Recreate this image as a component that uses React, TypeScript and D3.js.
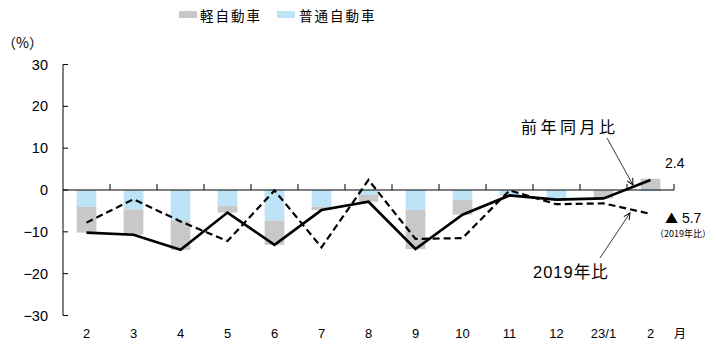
import React from "react";
import * as d3 from "d3";

// Month labels along the x axis
const months = ["2", "3", "4", "5", "6", "7", "8", "9", "10", "11", "12", "23/1", "2"];
// Contribution of standard cars (普通自動車), % points
const futsu = [-4.0, -4.7, -7.3, -3.8, -7.3, -4.0, -1.2, -4.8, -2.4, -1.2, -2.2, -0.2, -0.3];
// Contribution of kei cars (軽自動車), % points
const kei = [-6.2, -6.0, -7.0, -1.6, -5.8, -0.8, -1.6, -9.3, -3.5, -0.1, -0.1, -1.8, 2.7];
// Year-on-year change (前年同月比), %
const yoy = [-10.2, -10.7, -14.3, -5.4, -13.1, -4.8, -2.8, -14.1, -5.9, -1.3, -2.3, -2.0, 2.4];
// Change versus the same month of 2019 (2019年比), %
const vs2019 = [-7.8, -2.2, -7.5, -12.2, -0.1, -13.7, 2.4, -11.7, -11.5, -0.1, -3.4, -3.2, -5.7];
// Y axis ticks
const yTicks = [30, 20, 10, 0, -10, -20, -30];

const W = 716;
const H = 344;
const LATIN = "'Liberation Sans', Arial, sans-serif";
const CJK = "'Noto Sans CJK JP', sans-serif";
const GRAY = "#c8c8c8";
const BLUE = "#bde3f7";

export default function App() {
  const x = d3.scaleBand<number>().domain(d3.range(months.length)).range([63, 674]).padding(0);
  const y = d3.scaleLinear().domain([-30, 30]).range([315.5, 64.5]);
  const barW = x.bandwidth() * 0.42;
  const cx = (i: number) => (x(i) as number) + x.bandwidth() / 2;

  // Standard cars sit next to the zero line; kei cars extend beyond them
  // when the signs agree, otherwise they start from zero.
  const segments = months.flatMap((_, i) => {
    const b = futsu[i];
    const k = kei[i];
    const kStart = Math.sign(k) === Math.sign(b) ? b : 0;
    return [
      { i, from: 0, to: b, color: BLUE },
      { i, from: kStart, to: kStart + k, color: GRAY },
    ];
  });

  const line = d3
    .line<number>()
    .x((_, i) => cx(i))
    .y((v) => y(v));

  const last = months.length - 1;
  const fmt = d3.format(".1f");

  return (
    <svg
      width={W}
      height={H}
      style={{ position: "absolute", left: 0, top: 0, background: "#fff" }}
    >
      <defs>
        <marker
          id="arrow"
          viewBox="0 0 10 10"
          refX="9"
          refY="5"
          markerWidth="8"
          markerHeight="8"
          orient="auto"
          markerUnits="userSpaceOnUse"
        >
          <path d="M1,1 L9,5 L1,9" fill="none" stroke="#000" strokeWidth="1.2" />
        </marker>
      </defs>

      {/* legend */}
      <rect x={179} y={11} width={18} height={7} fill={GRAY} />
      <text x={200} y={20.5} fontFamily={CJK} fontSize={13.5} letterSpacing={2} fill="#000">
        軽自動車
      </text>
      <rect x={277} y={11} width={18} height={7} fill={BLUE} />
      <text x={299} y={20.5} fontFamily={CJK} fontSize={13.5} letterSpacing={2} fill="#000">
        普通自動車
      </text>

      {/* unit */}
      <text x={2} y={48} fontFamily={CJK} fontSize={14} fill="#000">
        （%）
      </text>

      {/* bars */}
      {segments.map((s, j) => (
        <rect
          key={j}
          x={cx(s.i) - barW / 2}
          y={y(Math.max(s.from, s.to))}
          width={barW}
          height={Math.abs(y(s.from) - y(s.to))}
          fill={s.color}
        />
      ))}

      {/* y axis */}
      <line x1={63} x2={63} y1={y(30)} y2={y(-30)} stroke="#000" strokeWidth={1} />
      {yTicks.map((t) => (
        <g key={t}>
          <line x1={63} x2={68} y1={y(t)} y2={y(t)} stroke="#000" strokeWidth={1} />
          <text
            x={48}
            y={y(t) + 5}
            textAnchor="end"
            fontFamily={LATIN}
            fontSize={14.5}
            fill="#000"
          >
            {t < 0 ? `\u2212${Math.abs(t)}` : t}
          </text>
        </g>
      ))}

      {/* zero line with category ticks */}
      <line x1={63} x2={674} y1={y(0)} y2={y(0)} stroke="#000" strokeWidth={1} />
      {months.map((_, i) => (
        <line
          key={i}
          x1={(x(i) as number) + x.bandwidth()}
          x2={(x(i) as number) + x.bandwidth()}
          y1={y(0)}
          y2={y(0) - 6}
          stroke="#000"
          strokeWidth={1}
        />
      ))}

      {/* lines */}
      <path
        d={line(vs2019) ?? ""}
        fill="none"
        stroke="#000"
        strokeWidth={2.2}
        strokeDasharray="7,4"
      />
      <path d={line(yoy) ?? ""} fill="none" stroke="#000" strokeWidth={2.6} />

      {/* x labels */}
      {months.map((m, i) => (
        <text
          key={i}
          x={cx(i)}
          y={338}
          textAnchor="middle"
          fontFamily={LATIN}
          fontSize={13}
          fill="#000"
        >
          {m}
        </text>
      ))}
      <text x={674} y={338} fontFamily={CJK} fontSize={12} fill="#000">
        月
      </text>

      {/* annotations */}
      <text x={521} y={133} fontFamily={CJK} fontSize={16} letterSpacing={3.5} fill="#000">
        前年同月比
      </text>
      <line x1={607} y1={138} x2={633} y2={185} stroke="#000" strokeWidth={0.8} markerEnd="url(#arrow)" />
      <text x={665} y={168} fontFamily={LATIN} fontSize={14} fill="#000">
        {fmt(yoy[last])}
      </text>

      <text x={533} y={278} fontFamily={LATIN} fontSize={16.5} letterSpacing={1} fill="#000">
        2019
        <tspan fontFamily={CJK}>年比</tspan>
      </text>
      <line x1={600} y1={258} x2={630} y2={213} stroke="#000" strokeWidth={0.8} markerEnd="url(#arrow)" />
      <text x={665} y={223} fontFamily={LATIN} fontSize={14} fill="#000">
        <tspan fontFamily={CJK} fontSize={13}>▲</tspan> {fmt(Math.abs(vs2019[last]))}
      </text>
      <text x={655} y={237} fontFamily={CJK} fontSize={9} fill="#000">
        （2019年比）
      </text>
    </svg>
  );
}
